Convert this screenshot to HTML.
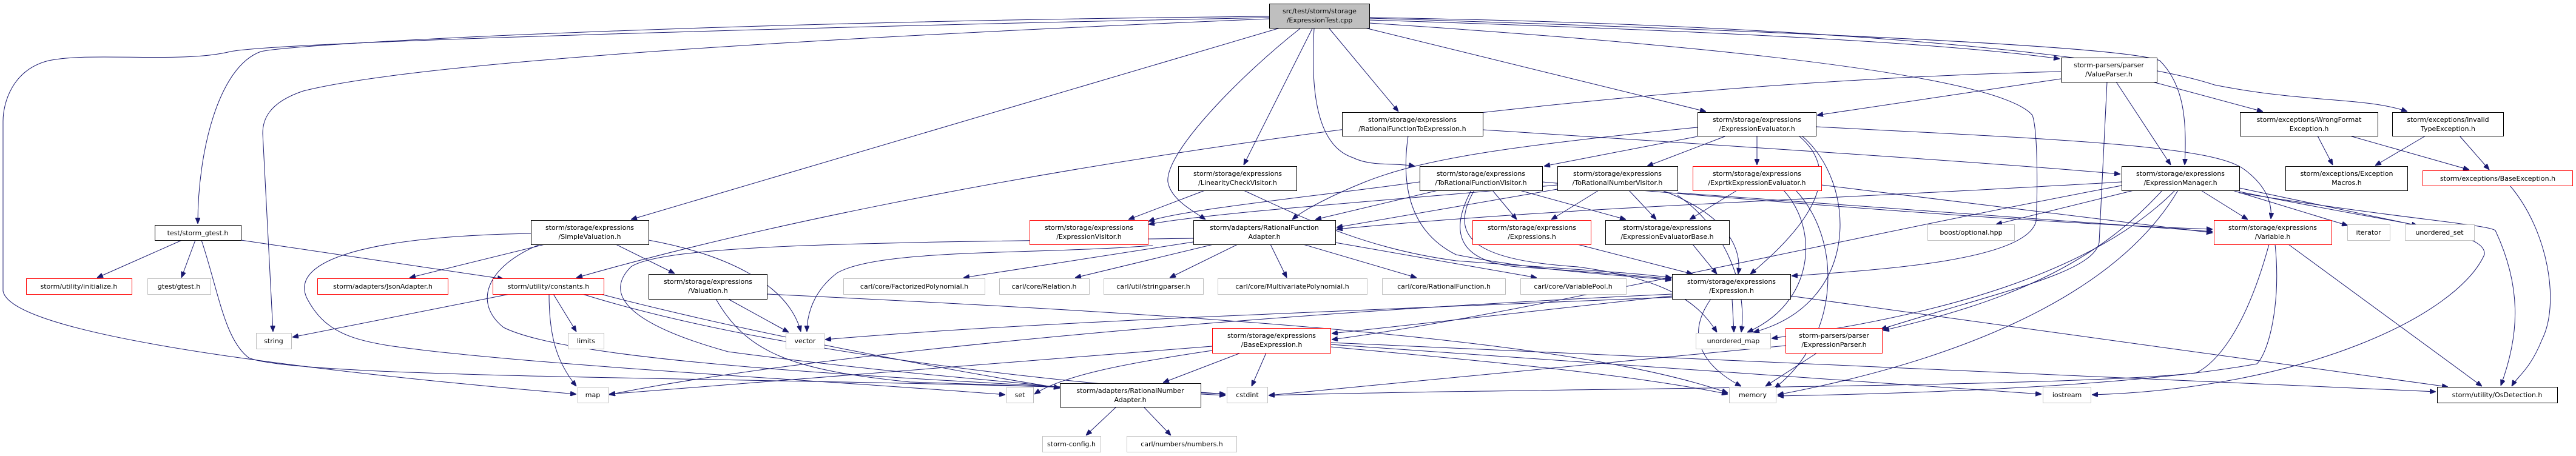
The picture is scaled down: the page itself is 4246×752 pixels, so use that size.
<!DOCTYPE html>
<html><head><meta charset="utf-8"><style>
html,body{margin:0;padding:0;background:#fff}
svg{display:block}
text{font-family:"DejaVu Sans","Liberation Sans",sans-serif;font-size:11px;fill:#000;text-anchor:middle}
.e{fill:none;stroke:#191970;stroke-width:1}
</style></head><body>
<svg width="4246" height="752" viewBox="0 0 4246 752" xmlns="http://www.w3.org/2000/svg">
<defs><marker id="a" viewBox="0 0 10 8" refX="10" refY="4" markerWidth="10" markerHeight="8" markerUnits="userSpaceOnUse" orient="auto"><path d="M0,0 L10,4 L0,8 z" fill="#191970" stroke="#191970"/></marker></defs>
<g class="e" marker-end="url(#a)">
<path d="M2092,27 C1200,35 500,70 430,85 C360,110 326,250 326,369"/>
<path d="M2092,29 C1300,45 450,70 380,85 C300,105 150,85 80,100 C20,115 5,170 5,200 L5,480 C20,560 600,620 950,650"/>
<path d="M2092,31 C1400,60 700,100 500,150 C440,170 433,200 433,220 L450,547"/>
<path d="M2110,46 L1040,362"/>
<path d="M2163,47 L2050,272"/>
<path d="M2143,47 C2050,120 1920,250 1925,300 C1930,330 1970,350 1987,362"/>
<path d="M2166,47 C2160,150 2170,240 2230,260 C2260,275 2300,268 2332,274"/>
<path d="M2191,47 L2305,184"/>
<path d="M2250,46 L2812,184"/>
<path d="M2257,33 C2800,50 3200,70 3395,97"/>
<path d="M2257,30 C2900,50 3500,75 3560,100 C3600,140 3605,200 3601,272"/>
<path d="M2257,29 C3000,40 3500,90 3650,140 C3800,170 3900,160 3968,184"/>
<path d="M2257,38 C2900,80 3300,130 3350,190 C3360,220 3358,330 3356,365 C3340,430 3100,445 2953,455"/>
<path d="M300,396 L160,458"/>
<path d="M322,396 L299,458"/>
<path d="M397,396 L830,460"/>
<path d="M332,396 C360,480 370,560 410,590 C500,630 1500,620 2020,650"/>
<path d="M898,403 L675,458"/>
<path d="M1015,403 L1112,451"/>
<path d="M1069,396 C1200,420 1300,470 1320,547"/>
<path d="M875,385 C600,390 480,430 505,490 C540,560 600,566 720,580 C1000,610 1400,630 1657,651"/>
<path d="M890,403 C800,440 780,500 830,540 C950,600 1500,625 2020,652"/>
<path d="M1200,493 L1300,548"/>
<path d="M1180,493 C1230,580 1300,610 1500,630 C1800,640 1950,645 2020,650"/>
<path d="M1264,485 C2000,520 2600,560 2848,648"/>
<path d="M840,485 L482,556"/>
<path d="M912,485 L950,547"/>
<path d="M905,485 C905,560 920,600 950,637"/>
<path d="M960,485 C1200,560 1600,620 2020,650"/>
<path d="M990,485 C1200,540 1500,600 1747,640"/>
<path d="M1840,671 L1790,718"/>
<path d="M1885,671 L1930,718"/>
<path d="M1986,314 L1860,362"/>
<path d="M2340,300 C2200,320 1950,345 1893,365"/>
<path d="M2567,305 C2300,330 2000,350 1893,370"/>
<path d="M2050,314 C2150,360 2250,410 2400,430 C2600,445 2700,450 2755,458"/>
<path d="M1967,399 L1588,458"/>
<path d="M2000,403 L1772,458"/>
<path d="M2040,403 L1928,458"/>
<path d="M2094,403 L2121,458"/>
<path d="M2148,403 L2335,458"/>
<path d="M2201,400 L2533,458"/>
<path d="M1900,405 C1700,420 1450,410 1380,450 C1340,480 1330,520 1330,547"/>
<path d="M1967,393 C1500,400 1100,400 1040,440 C1000,480 1020,530 1200,580 C1500,620 1700,630 1747,640"/>
<path d="M2370,314 L2168,362"/>
<path d="M2567,312 L2203,375"/>
<path d="M2460,314 L2500,362"/>
<path d="M2505,314 L2680,362"/>
<path d="M2425,314 C2390,380 2400,430 2500,440 C2650,450 2700,455 2755,460"/>
<path d="M2542,300 C3000,340 3400,370 3647,378"/>
<path d="M2430,314 C2380,400 2450,430 2600,440 C2750,460 2800,500 2830,548"/>
<path d="M2635,314 L2557,362"/>
<path d="M2685,314 L2730,362"/>
<path d="M2740,314 C2860,360 2870,420 2865,452"/>
<path d="M2765,318 L3647,382"/>
<path d="M2765,322 C2850,380 2880,480 2870,548"/>
<path d="M2863,314 L2785,362"/>
<path d="M2940,314 C3000,380 2990,500 2880,548"/>
<path d="M2960,314 C3040,400 3030,560 2925,640"/>
<path d="M3002,305 L3647,384"/>
<path d="M2798,225 L2545,274"/>
<path d="M2843,225 L2715,274"/>
<path d="M2896,224 L2896,272"/>
<path d="M2965,224 C3020,270 3020,340 2885,452"/>
<path d="M2798,210 C2500,240 2350,260 2250,300 C2200,320 2150,345 2130,362"/>
<path d="M2970,224 C3060,300 3070,500 2890,548"/>
<path d="M2993,209 C3400,230 3650,240 3700,280 C3740,310 3745,340 3743,361"/>
<path d="M2444,214 C3000,250 3300,270 3495,287"/>
<path d="M2321,224 C2310,300 2320,380 2400,420 C2550,450 2700,455 2755,462"/>
<path d="M2600,403 L2790,452"/>
<path d="M2790,403 L2830,452"/>
<path d="M2756,490 C2300,510 1700,530 1360,560"/>
<path d="M2756,488 L2195,550"/>
<path d="M2855,493 L2858,548"/>
<path d="M2820,493 C2780,550 2800,600 2870,637"/>
<path d="M2951,488 L4035,638"/>
<path d="M2756,485 C2000,520 1300,590 1004,651"/>
<path d="M2087,582 L2063,637"/>
<path d="M2045,582 L1917,631"/>
<path d="M1998,578 C1850,600 1750,620 1705,650"/>
<path d="M1998,571 L1004,650"/>
<path d="M2193,572 C2500,600 2700,620 2848,650"/>
<path d="M2193,568 L3365,650"/>
<path d="M2193,565 L4015,646"/>
<path d="M2995,582 L2910,637"/>
<path d="M2943,570 L2091,652"/>
<path d="M3517,314 L3290,370"/>
<path d="M3628,314 L3705,362"/>
<path d="M3680,314 L3870,372"/>
<path d="M3691,310 L3985,372"/>
<path d="M3691,318 C3950,360 4100,370 4113,380 C4160,480 4150,560 4122,636"/>
<path d="M3691,316 C3950,370 4100,380 4095,420 C4050,520 3800,640 3448,651"/>
<path d="M3564,314 C3450,440 3300,500 3104,545"/>
<path d="M3585,314 C3450,450 3200,520 2920,558"/>
<path d="M3590,314 C3480,500 3200,600 2930,651"/>
<path d="M3497,300 C3000,330 2600,340 2203,378"/>
<path d="M3497,306 C3000,400 2500,520 2195,560"/>
<path d="M3772,403 L4091,637"/>
<path d="M3740,403 C3700,550 3650,600 3620,615 C3400,640 2500,640 2091,652"/>
<path d="M3750,403 C3760,500 3740,580 3720,600 C3500,640 3100,650 2930,653"/>
<path d="M3397,130 L2995,190"/>
<path d="M3488,135 L3578,272"/>
<path d="M3548,135 L3730,184"/>
<path d="M3397,118 C2500,140 1500,300 950,458"/>
<path d="M3473,135 L3460,400 C3450,450 3300,480 3100,543"/>
<path d="M3820,224 L3845,272"/>
<path d="M3873,224 L4070,280"/>
<path d="M3998,224 L3915,273"/>
<path d="M4054,224 L4103,280"/>
<path d="M4137,306 C4200,380 4220,500 4190,560 C4170,610 4150,620 4140,637"/>
</g>
<g stroke-width="1">
<rect x="2092.5" y="6.5" width="165" height="40" fill="#bfbfbf" stroke="#000"/>
<text x="2175" y="22">src/test/storm/storage</text><text x="2175" y="37">/ExpressionTest.cpp</text>

<rect x="255.5" y="371.5" width="142" height="25" fill="#fff" stroke="#000"/><text x="326" y="388">test/storm_gtest.h</text>
<rect x="43.5" y="459.5" width="174" height="26" fill="#fff" stroke="#f00"/><text x="130" y="476">storm/utility/initialize.h</text>
<rect x="243.5" y="459.5" width="104" height="26" fill="#fff" stroke="#bfbfbf"/><text x="295" y="476">gtest/gtest.h</text>
<rect x="523.5" y="459.5" width="215" height="26" fill="#fff" stroke="#f00"/><text x="631" y="476">storm/adapters/JsonAdapter.h</text>
<rect x="812.5" y="459.5" width="183" height="26" fill="#fff" stroke="#f00"/><text x="904" y="476">storm/utility/constants.h</text>
<rect x="422.5" y="549.5" width="58" height="26" fill="#fff" stroke="#bfbfbf"/><text x="451" y="566">string</text>
<rect x="936.5" y="549.5" width="59" height="26" fill="#fff" stroke="#bfbfbf"/><text x="966" y="566">limits</text>
<rect x="952.5" y="638.5" width="50" height="26" fill="#fff" stroke="#bfbfbf"/><text x="977" y="655">map</text>
<rect x="875.5" y="363.5" width="194" height="40" fill="#fff" stroke="#000"/><text x="972" y="379">storm/storage/expressions</text><text x="972" y="394">/SimpleValuation.h</text>
<rect x="1069.5" y="452.5" width="195" height="41" fill="#fff" stroke="#000"/><text x="1167" y="468">storm/storage/expressions</text><text x="1167" y="483">/Valuation.h</text>
<rect x="1295.5" y="549.5" width="63" height="26" fill="#fff" stroke="#bfbfbf"/><text x="1327" y="566">vector</text>
<rect x="1659.5" y="638.5" width="44" height="26" fill="#fff" stroke="#bfbfbf"/><text x="1681" y="655">set</text>
<rect x="1747.5" y="632.5" width="232" height="39" fill="#fff" stroke="#000"/><text x="1863" y="648">storm/adapters/RationalNumber</text><text x="1863" y="663">Adapter.h</text>
<rect x="2022.5" y="638.5" width="67" height="26" fill="#fff" stroke="#bfbfbf"/><text x="2056" y="655">cstdint</text>
<rect x="1718.5" y="719.5" width="96" height="26" fill="#fff" stroke="#bfbfbf"/><text x="1766" y="736">storm-config.h</text>
<rect x="1857.5" y="719.5" width="181" height="26" fill="#fff" stroke="#bfbfbf"/><text x="1948" y="736">carl/numbers/numbers.h</text>
<rect x="1697.5" y="363.5" width="195" height="40" fill="#fff" stroke="#f00"/><text x="1795" y="379">storm/storage/expressions</text><text x="1795" y="394">/ExpressionVisitor.h</text>
<rect x="1390.5" y="459.5" width="233" height="26" fill="#fff" stroke="#bfbfbf"/><text x="1507" y="476">carl/core/FactorizedPolynomial.h</text>
<rect x="1647.5" y="459.5" width="148" height="26" fill="#fff" stroke="#bfbfbf"/><text x="1721" y="476">carl/core/Relation.h</text>
<rect x="1819.5" y="459.5" width="164" height="26" fill="#fff" stroke="#bfbfbf"/><text x="1901" y="476">carl/util/stringparser.h</text>
<rect x="2007.5" y="459.5" width="246" height="26" fill="#fff" stroke="#bfbfbf"/><text x="2130" y="476">carl/core/MultivariatePolynomial.h</text>
<rect x="2278.5" y="459.5" width="203" height="26" fill="#fff" stroke="#bfbfbf"/><text x="2380" y="476">carl/core/RationalFunction.h</text>
<rect x="2506.5" y="459.5" width="174" height="26" fill="#fff" stroke="#bfbfbf"/><text x="2593" y="476">carl/core/VariablePool.h</text>
<rect x="1942.5" y="274.5" width="195" height="40" fill="#fff" stroke="#000"/><text x="2040" y="290">storm/storage/expressions</text><text x="2040" y="305">/LinearityCheckVisitor.h</text>
<rect x="1967.5" y="363.5" width="234" height="40" fill="#fff" stroke="#000"/><text x="2084" y="379">storm/adapters/RationalFunction</text><text x="2084" y="394">Adapter.h</text>
<rect x="2212.5" y="185.5" width="232" height="39" fill="#fff" stroke="#000"/><text x="2328" y="201">storm/storage/expressions</text><text x="2328" y="216">/RationalFunctionToExpression.h</text>
<rect x="2340.5" y="274.5" width="202" height="40" fill="#fff" stroke="#000"/><text x="2441" y="290">storm/storage/expressions</text><text x="2441" y="305">/ToRationalFunctionVisitor.h</text>
<rect x="2567.5" y="274.5" width="198" height="40" fill="#fff" stroke="#000"/><text x="2666" y="290">storm/storage/expressions</text><text x="2666" y="305">/ToRationalNumberVisitor.h</text>
<rect x="2790.5" y="274.5" width="212" height="40" fill="#fff" stroke="#f00"/><text x="2896" y="290">storm/storage/expressions</text><text x="2896" y="305">/ExprtkExpressionEvaluator.h</text>
<rect x="2798.5" y="185.5" width="195" height="39" fill="#fff" stroke="#000"/><text x="2896" y="201">storm/storage/expressions</text><text x="2896" y="216">/ExpressionEvaluator.h</text>
<rect x="2427.5" y="363.5" width="195" height="40" fill="#fff" stroke="#f00"/><text x="2525" y="379">storm/storage/expressions</text><text x="2525" y="394">/Expressions.h</text>
<rect x="2646.5" y="363.5" width="204" height="40" fill="#fff" stroke="#000"/><text x="2748" y="379">storm/storage/expressions</text><text x="2748" y="394">/ExpressionEvaluatorBase.h</text>
<rect x="2756.5" y="452.5" width="195" height="41" fill="#fff" stroke="#000"/><text x="2854" y="468">storm/storage/expressions</text><text x="2854" y="483">/Expression.h</text>
<rect x="1998.5" y="541.5" width="195" height="41" fill="#fff" stroke="#f00"/><text x="2096" y="557">storm/storage/expressions</text><text x="2096" y="572">/BaseExpression.h</text>
<rect x="2795.5" y="549.5" width="123" height="26" fill="#fff" stroke="#bfbfbf"/><text x="2857" y="566">unordered_map</text>
<rect x="2943.5" y="541.5" width="159" height="41" fill="#fff" stroke="#f00"/><text x="3023" y="557">storm-parsers/parser</text><text x="3023" y="572">/ExpressionParser.h</text>
<rect x="2850.5" y="638.5" width="77" height="26" fill="#fff" stroke="#bfbfbf"/><text x="2889" y="655">memory</text>
<rect x="3397.5" y="95.5" width="158" height="40" fill="#fff" stroke="#000"/><text x="3476" y="111">storm-parsers/parser</text><text x="3476" y="126">/ValueParser.h</text>
<rect x="3692.5" y="185.5" width="227" height="39" fill="#fff" stroke="#000"/><text x="3806" y="201">storm/exceptions/WrongFormat</text><text x="3806" y="216">Exception.h</text>
<rect x="3943.5" y="185.5" width="183" height="39" fill="#fff" stroke="#000"/><text x="4035" y="201">storm/exceptions/Invalid</text><text x="4035" y="216">TypeException.h</text>
<rect x="3497.5" y="274.5" width="194" height="40" fill="#fff" stroke="#000"/><text x="3594" y="290">storm/storage/expressions</text><text x="3594" y="305">/ExpressionManager.h</text>
<rect x="3767.5" y="274.5" width="201" height="40" fill="#fff" stroke="#000"/><text x="3868" y="290">storm/exceptions/Exception</text><text x="3868" y="305">Macros.h</text>
<rect x="3993.5" y="281.5" width="247" height="25" fill="#fff" stroke="#f00"/><text x="4117" y="298">storm/exceptions/BaseException.h</text>
<rect x="3177.5" y="370.5" width="143" height="26" fill="#fff" stroke="#bfbfbf"/><text x="3249" y="387">boost/optional.hpp</text>
<rect x="3649.5" y="363.5" width="194" height="40" fill="#fff" stroke="#f00"/><text x="3746" y="379">storm/storage/expressions</text><text x="3746" y="394">/Variable.h</text>
<rect x="3869.5" y="370.5" width="70" height="26" fill="#fff" stroke="#bfbfbf"/><text x="3904" y="387">iterator</text>
<rect x="3964.5" y="370.5" width="114" height="26" fill="#fff" stroke="#bfbfbf"/><text x="4021" y="387">unordered_set</text>
<rect x="3367.5" y="638.5" width="79" height="26" fill="#fff" stroke="#bfbfbf"/><text x="3407" y="655">iostream</text>
<rect x="4017.5" y="638.5" width="198" height="26" fill="#fff" stroke="#000"/><text x="4116" y="655">storm/utility/OsDetection.h</text>
</g>
</svg>
</body></html>
